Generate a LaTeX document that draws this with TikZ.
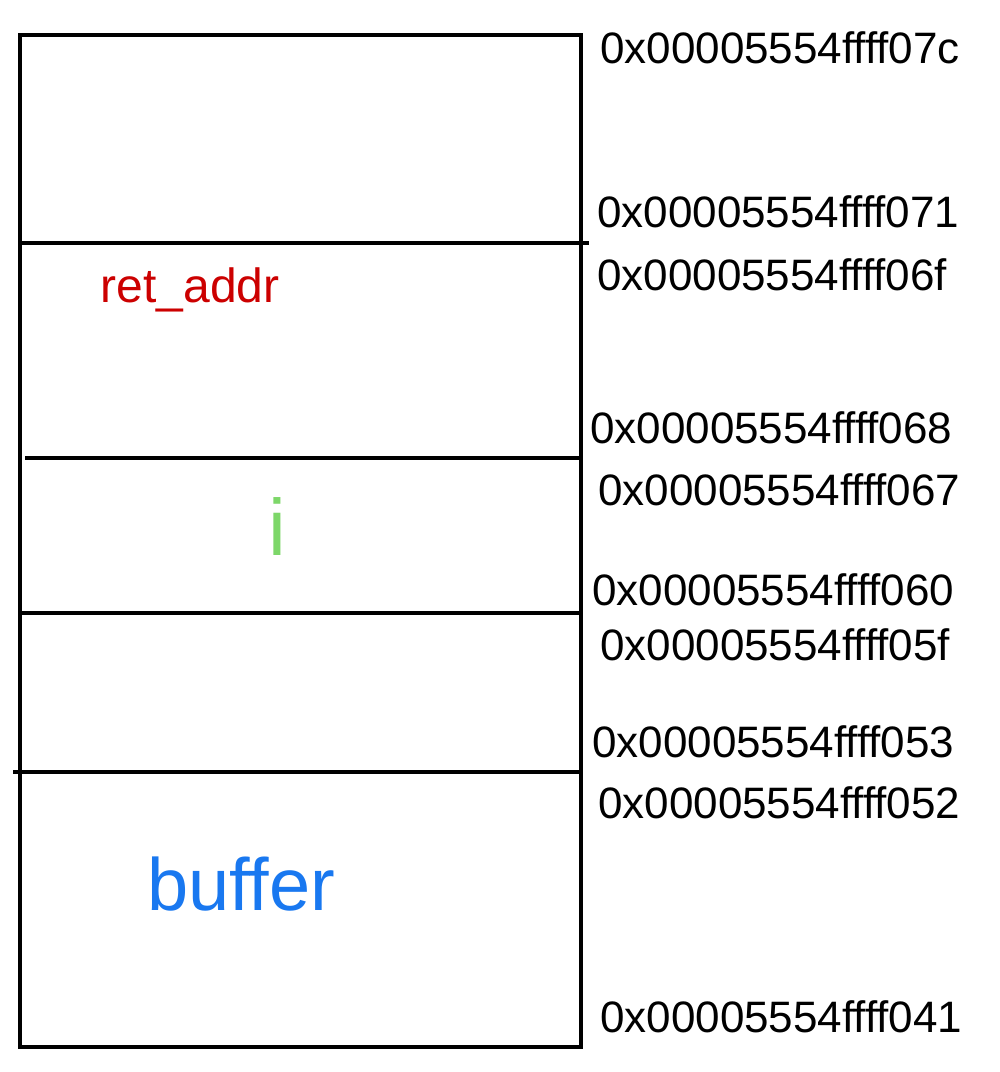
\documentclass[tikz,border=0pt]{standalone}
\usepackage{fontspec}
\setmainfont{Liberation Sans}
\definecolor{retred}{RGB}{204,0,0}
\definecolor{igreen}{RGB}{125,215,105}
\definecolor{bufblue}{RGB}{25,120,240}
\begin{document}
\begin{tikzpicture}[x=1pt,y=-1pt,
  wall/.style={line width=3.2pt,black},
  addr/.style={anchor=west,inner sep=0pt,font=\fontsize{44}{44}\selectfont},
  varlabel/.style={inner sep=0pt}]
\useasboundingbox[fill=white] (0,0) rectangle (1000,1072);
% stack frame
\draw[wall] (20,35) rectangle (581,1047);
\draw[wall] (20,243) -- (589,243);
\draw[wall] (25,458) -- (581,458);
\draw[wall] (22,613) -- (583,613);
\draw[wall] (13,772) -- (581,772);
% variable labels
\node[varlabel,text=retred,font=\fontsize{48}{48}\selectfont] (ret) at (190,290) {ret\_addr};
\node[varlabel,text=igreen,font=\fontsize{80}{80}\selectfont] (ivar) at (277,527) {i};
\node[varlabel,text=bufblue,font=\fontsize{74}{74}\selectfont] (buf) at (241,884) {buffer};
% addresses
\node[addr] (a07c) at (600,48) {0x00005554ffff07c};
\node[addr] (a071) at (597,212) {0x00005554ffff071};
\node[addr] (a06f) at (597,275) {0x00005554ffff06f};
\node[addr] (a068) at (590,428) {0x00005554ffff068};
\node[addr] (a067) at (598,490) {0x00005554ffff067};
\node[addr] (a060) at (592,590) {0x00005554ffff060};
\node[addr] (a05f) at (600,645) {0x00005554ffff05f};
\node[addr] (a053) at (592,742) {0x00005554ffff053};
\node[addr] (a052) at (598,803) {0x00005554ffff052};
\node[addr] (a041) at (600,1017) {0x00005554ffff041};
\end{tikzpicture}
\end{document}
